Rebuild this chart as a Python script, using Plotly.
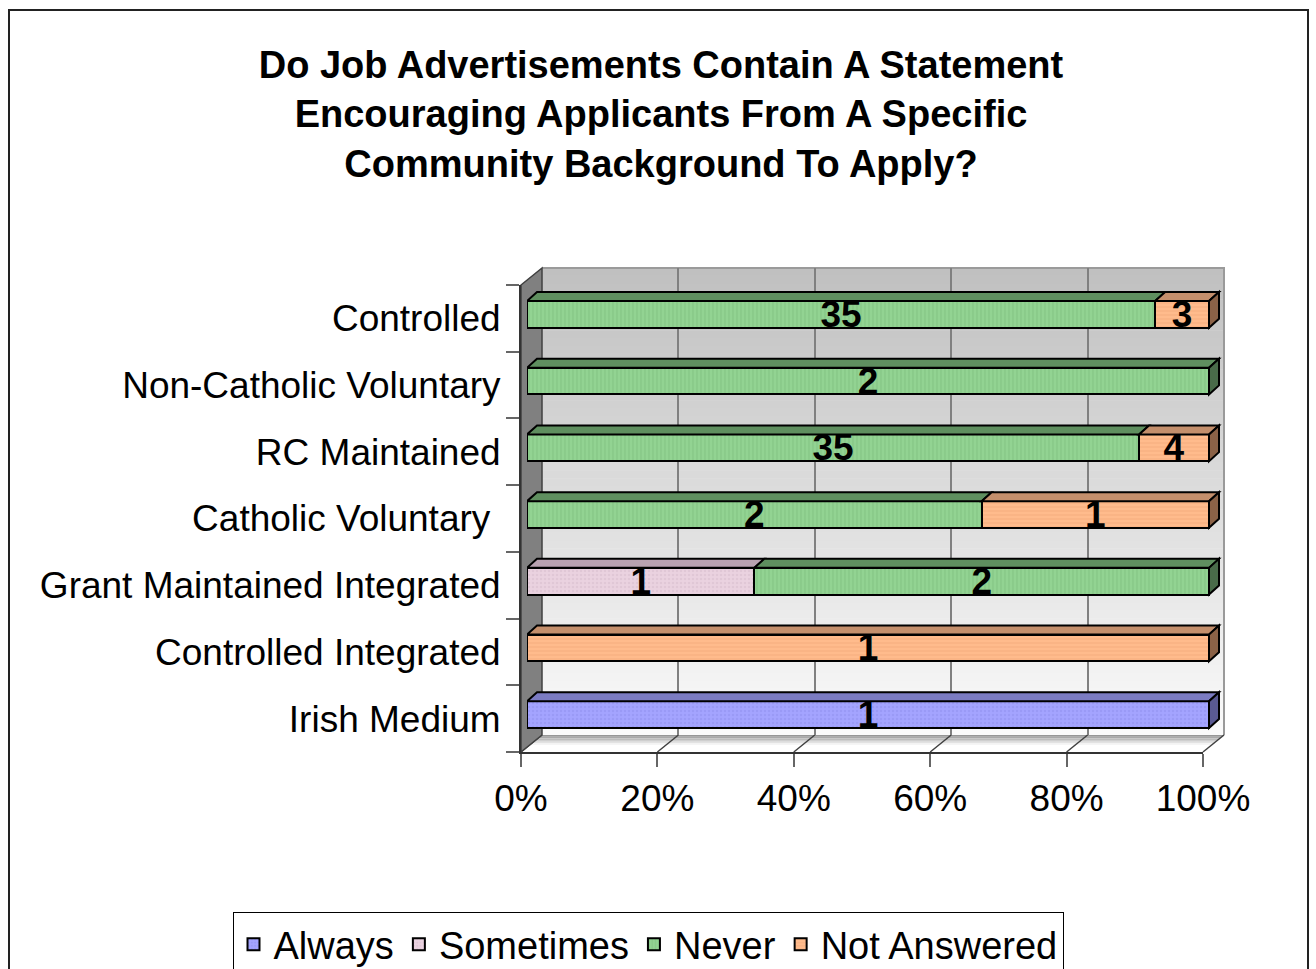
import plotly.graph_objects as go

# ---- data -------------------------------------------------------------
categories = [
    "Controlled",
    "Non-Catholic Voluntary",
    "RC Maintained",
    "Catholic Voluntary\u00a0",
    "Grant Maintained Integrated",
    "Controlled Integrated",
    "Irish Medium",
]
always = [0, 0, 0, 0, 0, 0, 1]
sometimes = [0, 0, 0, 0, 1, 0, 0]
never = [35, 2, 35, 2, 2, 0, 0]
not_answered = [3, 0, 4, 1, 0, 1, 0]

series_names = ["Always", "Sometimes", "Never", "Not Answered"]
series_values = [always, sometimes, never, not_answered]

pct_ticks = [0, 20, 40, 60, 80, 100]
pct_labels = ["0%", "20%", "40%", "60%", "80%", "100%"]

title_text = ("Do Job Advertisements Contain A Statement<br>"
              "Encouraging Applicants From A Specific<br>"
              "Community Background To Apply?")

# ---- styling ----------------------------------------------------------
FONT = "Liberation Sans, Arial, sans-serif"
AXIS_FONT = 37
styles = {
    "Always":       dict(front="#a4a4ff", fg="#9090ee", top="#7b7bc2", end="#5a5a92", shape="."),
    "Sometimes":    dict(front="#ead2e0", fg="#d6bccb", top="#b9a2b1", end="#8c7686", shape="."),
    "Never":        dict(front="#92d392", fg="#7cbc7c", top="#5f8f5f", end="#496b49", shape="|"),
    "Not Answered": dict(front="#ffbb8c", fg="#f0a478", top="#c48f6c", end="#8b6247", shape="-"),
}

W, H = 1316, 969


def fx(p):
    return p / W


def fy(p):
    return 1 - p / H


# front plane of the 3-D box, wall depth offset, bar placement
FL, FR, FT, FB = 521, 1203, 285, 752
DX, DY = 21, -17
BSX, BSY = 6, -4
BDX, BDY = 10, -9
PW = FR - FL
ROW = (FB - FT) / len(categories)
X3_MAX = 105

fig = go.Figure()

# wall subplot (x / y): only used for its vertical gridlines
fig.add_trace(go.Scatter(x=[0], y=[0], mode="markers", marker=dict(opacity=0),
                         hoverinfo="skip", showlegend=False, xaxis="x", yaxis="y"))

# front axes subplot (x2 / y2): percentage ticks and category labels
fig.add_trace(go.Scatter(x=[0] * len(categories), y=categories, mode="markers",
                         marker=dict(opacity=0), hoverinfo="skip", showlegend=False,
                         xaxis="x2", yaxis="y2"))

# bars (x3 / y3)
n = len(categories)
ypos = [n - 1 - i for i in range(n)]
totals = [sum(s[i] for s in series_values) for i in range(n)]

for name, vals in zip(series_names, series_values):
    st = styles[name]
    fig.add_trace(go.Bar(
        name=name,
        orientation="h",
        x=vals,
        y=ypos,
        width=0.4,
        text=[str(v) if v else "" for v in vals],
        textposition="inside",
        insidetextanchor="middle",
        textangle=0,
        constraintext="none",
        textfont=dict(family=FONT, size=37, color="black", weight="bold"),
        marker=dict(
            color=st["front"],
            line=dict(color="black", width=2),
            pattern=dict(shape=st["shape"], fgcolor=st["fg"], bgcolor=st["front"],
                         size=4, solidity=0.35, fillmode="overlay"),
        ),
        xaxis="x3",
        yaxis="y3",
        hoverinfo="skip",
    ))

# 3-D top and end faces of each bar segment
ddx = BDX / PW * 100
ddy = -BDY / ROW
half = 0.2
shapes = []
face_shapes = []
for i in range(n):
    y = ypos[i]
    start = 0.0
    last = None
    for name, vals in zip(series_names, series_values):
        v = vals[i]
        if not v:
            continue
        p = v / totals[i] * 100
        x0, x1 = start, start + p
        yt = y + half
        face_shapes.append(dict(
            type="path", xref="x3", yref="y3",
            path=f"M{x0},{yt} L{x1},{yt} L{x1 + ddx},{yt + ddy} L{x0 + ddx},{yt + ddy} Z",
            fillcolor=styles[name]["top"], line=dict(color="black", width=2), layer="above"))
        start = x1
        last = name
    yt, yb = y + half, y - half
    face_shapes.append(dict(
        type="path", xref="x3", yref="y3",
        path=f"M{start},{yb} L{start},{yt} L{start + ddx},{yt + ddy} L{start + ddx},{yb + ddy} Z",
        fillcolor=styles[last]["end"], line=dict(color="black", width=2), layer="above"))

# back wall gradient
WL, WR, WT, WB = FL + DX, FR + DX, FT + DY, FB + DY
bands = 60
for k in range(bands):
    y0 = WT + (WB - WT) * k / bands
    y1 = WT + (WB - WT) * (k + 1) / bands
    g = int(round(192 + (250 - 192) * k / (bands - 1)))
    shapes.append(dict(type="rect", xref="paper", yref="paper",
                       x0=fx(WL), x1=fx(WR), y0=fy(y0), y1=fy(y1 + 0.5),
                       fillcolor=f"rgb({g},{g},{g})", line=dict(width=0), layer="below"))
# wall border
shapes.append(dict(type="path", xref="paper", yref="paper",
                   path=f"M{fx(WL)},{fy(WT)} L{fx(WR)},{fy(WT)} L{fx(WR)},{fy(WB)}",
                   line=dict(color="#9a9a9a", width=2), layer="below"))

# floor gradient
fb = 10
for k in range(fb):
    ya = WB + (FB - WB) * k / fb
    yb_ = WB + (FB - WB) * (k + 1) / fb
    xa = WL - (ya - WB) / (FB - WB) * DX
    xb = WL - (yb_ - WB) / (FB - WB) * DX
    g = int(round(150 + (255 - 150) * min(1, k / (fb * 0.55))))
    shapes.append(dict(
        type="path", xref="paper", yref="paper",
        path=(f"M{fx(xa)},{fy(ya)} L{fx(xa + PW)},{fy(ya)} "
              f"L{fx(xb + PW)},{fy(yb_)} L{fx(xb)},{fy(yb_)} Z"),
        fillcolor=f"rgb({g},{g},{g})", line=dict(width=0), layer="below"))
# floor gridlines and right floor edge
for t in pct_ticks:
    xf = FL + PW * t / 100
    shapes.append(dict(type="line", xref="paper", yref="paper",
                       x0=fx(xf), y0=fy(FB), x1=fx(xf + DX), y1=fy(WB),
                       line=dict(color="#404040", width=1.5), layer="below"))

# left side wall
shapes.append(dict(type="path", xref="paper", yref="paper",
                   path=(f"M{fx(FL)},{fy(FT)} L{fx(WL)},{fy(WT)} "
                         f"L{fx(WL)},{fy(WB)} L{fx(FL)},{fy(FB)} Z"),
                   fillcolor="#808080", line=dict(color="#404040", width=1.5), layer="below"))

# outer chart border
shapes.append(dict(type="rect", xref="paper", yref="paper",
                   x0=fx(9), y0=fy(10), x1=fx(1308), y1=fy(1000),
                   line=dict(color="#222222", width=2), fillcolor="rgba(0,0,0,0)", layer="below"))

fig.update_layout(
    template="none",
    width=W, height=H, autosize=False,
    margin=dict(l=0, r=0, t=0, b=0, pad=0, autoexpand=False),
    paper_bgcolor="white",
    plot_bgcolor="rgba(0,0,0,0)",
    font=dict(family=FONT, size=AXIS_FONT, color="black"),
    barmode="stack",
    barnorm="percent",
    title=dict(text=title_text, x=661 / W, xanchor="center", y=fy(78), yanchor="top",
               xref="container", yref="container", automargin=False,
               font=dict(family=FONT, size=38, color="black", weight="bold")),
    showlegend=True,
    legend=dict(orientation="h", x=648 / W, xanchor="center", y=fy(912), yanchor="top",
                bgcolor="white", bordercolor="black", borderwidth=1,
                font=dict(family=FONT, size=38, color="black"),
                traceorder="normal"),
    # wall axes
    xaxis=dict(domain=[fx(WL), fx(WR)], range=[0, 100], anchor="y", automargin=False,
               tickvals=pct_ticks, showgrid=True, gridcolor="#808080", gridwidth=2,
               showticklabels=False, ticks="", zeroline=False, showline=False, fixedrange=True),
    yaxis=dict(domain=[fy(WB), fy(WT)], range=[0, 1], anchor="x", automargin=False,
               showgrid=False, showticklabels=False, ticks="", zeroline=False,
               showline=False, fixedrange=True),
    # front axes
    xaxis2=dict(domain=[fx(FL), fx(FR)], range=[0, 100], anchor="y2", automargin=False,
                tickvals=pct_ticks, ticktext=pct_labels, ticks="outside", ticklen=13,
                tickwidth=2, tickcolor="#666666", showline=True, linecolor="#333333",
                linewidth=2, showgrid=False, zeroline=False,
                tickfont=dict(family=FONT, size=AXIS_FONT, color="black"), fixedrange=True),
    yaxis2=dict(domain=[fy(FB), fy(FT)], type="category", automargin=False,
                categoryorder="array", categoryarray=list(reversed(categories)),
                range=[-0.5, n - 0.5], anchor="x2",
                ticks="outside", tickson="boundaries", ticklen=13, tickwidth=2,
                tickcolor="#666666", showline=True, linecolor="#333333", linewidth=2,
                showgrid=False, zeroline=False, ticklabelstandoff=11,
                tickfont=dict(family=FONT, size=AXIS_FONT, color="black"), fixedrange=True),
    # bar axes
    xaxis3=dict(domain=[fx(FL + BSX), fx(FL + BSX + PW * X3_MAX / 100)], range=[0, X3_MAX],
                anchor="y3", visible=False, fixedrange=True, automargin=False),
    yaxis3=dict(domain=[fy(FB + BSY), fy(FT + BSY)], range=[-0.5, n - 0.5],
                anchor="x3", visible=False, fixedrange=True, automargin=False),
    shapes=shapes + face_shapes,
)

fig.write_html("out.html")
